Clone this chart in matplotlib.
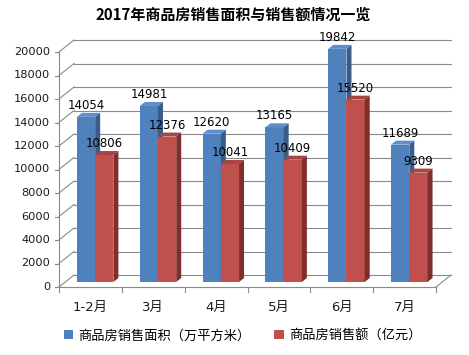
import matplotlib
matplotlib.use("Agg")
import matplotlib.pyplot as plt
from matplotlib.patches import Polygon, Rectangle
from matplotlib.lines import Line2D

title = "2017年商品房销售面积与销售额情况一览"
categories = ["1-2月", "3月", "4月", "5月", "6月", "7月"]
series_names = ["商品房销售面积（万平方米）", "商品房销售额（亿元）"]
area = [14054, 14981, 12620, 13165, 19842, 11689]
sales = [10806, 12376, 10041, 10409, 15520, 9309]
yticks = list(range(0, 20001, 2000))

W, H, DPI = 469, 355, 100
fig = plt.figure(figsize=(W / DPI, H / DPI), dpi=DPI)
fig.patch.set_facecolor("white")

# bar plane axes (pixel layout)
left_px, right_px, base_px, top_px = 65, 442, 282, 47
ax = fig.add_axes([left_px / W, (H - base_px) / H, (right_px - left_px) / W, (base_px - top_px) / H])
ax.set_xlim(0, len(categories))
ax.set_ylim(0, 20000)
ax.axis("off")

ux = len(categories) / (right_px - left_px)
uy = 20000 / (base_px - top_px)

fx, fy = -6 * ux, -5 * uy      # front plane offset
bx, by = 9 * ux, 7 * uy        # back plane offset
ddx, ddy = 5 * ux, 4 * uy      # bar depth

grid_c = "#8a8a8a"
lw = 0.8
n = len(categories)

for t in yticks:
    ax.add_line(Line2D([bx, n + bx], [t + by, t + by], color=grid_c, lw=lw, clip_on=False, zorder=1))
    ax.add_line(Line2D([fx, bx], [t + fy, t + by], color=grid_c, lw=lw, clip_on=False, zorder=1))
    ax.add_line(Line2D([fx - 4 * ux, fx], [t + fy, t + fy], color=grid_c, lw=lw, clip_on=False, zorder=1))
    ax.text(fx - 9 * ux, t + fy, str(t), ha="right", va="center", fontsize=8.2,
            family="DejaVu Sans", color="#1a1a1a")

# front axis
ax.add_line(Line2D([fx, fx], [fy, 20000 + fy], color=grid_c, lw=lw, clip_on=False, zorder=1))
# floor
ax.add_line(Line2D([fx, n + fx], [fy, fy], color=grid_c, lw=lw, clip_on=False, zorder=1))
ax.add_line(Line2D([n + fx, n + bx], [fy, by], color=grid_c, lw=lw, clip_on=False, zorder=1))
for i in range(n + 1):
    ax.add_line(Line2D([i + fx, i + fx], [fy, fy - 5 * uy], color=grid_c, lw=lw, clip_on=False, zorder=1))

for i, c in enumerate(categories):
    ax.text(i + 0.5 + fx, fy - 20 * uy, c, ha="center", va="center", fontsize=9.5,
            family=["DejaVu Sans", "Noto Sans CJK SC"], color="#1a1a1a")

styles = [
    dict(front="#4F81BD", top="#5F8FCB", side="#385D8A"),
    dict(front="#C0504D", top="#A84441", side="#7E2F2D"),
]
bw = 0.29
off0 = 0.19

for s, vals in enumerate([area, sales]):
    st = styles[s]
    for i, v in enumerate(vals):
        x0 = i + off0 + s * bw
        x1 = x0 + bw
        z = 3 + s
        ax.add_patch(Rectangle((x0, 0), bw, v, facecolor=st["front"], edgecolor="none", zorder=z, clip_on=False))
        ax.add_patch(Polygon([(x0, v), (x1, v), (x1 + ddx, v + ddy), (x0 + ddx, v + ddy)],
                             closed=True, facecolor=st["top"], edgecolor="none", zorder=z, clip_on=False))
        ax.add_patch(Polygon([(x1, 0), (x1 + ddx, ddy), (x1 + ddx, v + ddy), (x1, v)],
                             closed=True, facecolor=st["side"], edgecolor="none", zorder=z, clip_on=False))
        ax.text((x0 + x1) / 2, v + 5 * uy, str(v), ha="center", va="bottom", fontsize=8.5,
                family="DejaVu Sans", color="black", zorder=10)

fig.text(0.497, 0.958, title, ha="center", va="center", fontsize=10.8, fontweight="bold",
         family=["Noto Sans CJK SC", "DejaVu Sans"])

handles = [Rectangle((0, 0), 1, 1, facecolor=st["front"], edgecolor="none") for st in styles]
leg = fig.legend(handles, series_names, loc="center", bbox_to_anchor=(0.5175, 0.054), ncol=2,
                 frameon=False, handlelength=0.7, handleheight=0.7, handletextpad=0.4,
                 columnspacing=1.8, prop={"family": ["Noto Sans CJK SC", "DejaVu Sans"], "size": 9.5})

fig.savefig("out.png", dpi=DPI, facecolor="white")
